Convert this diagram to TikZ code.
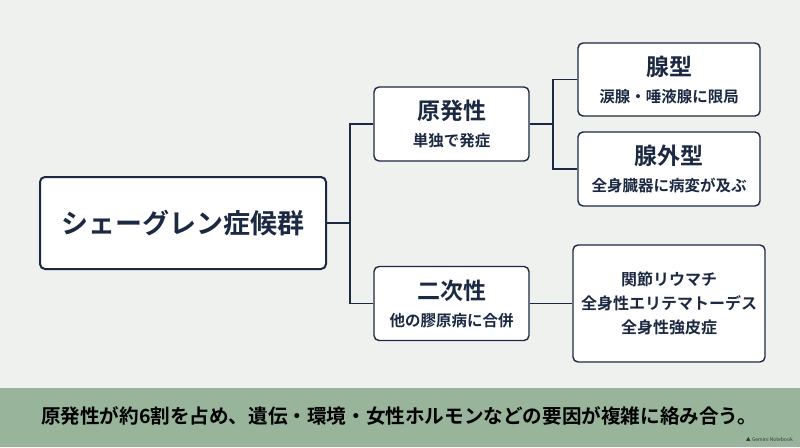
\documentclass[tikz,border=0pt]{standalone}
\usepackage{fontspec}
\setmainfont{Noto Sans CJK JP}[BoldFont={Noto Sans CJK JP Bold}]
\definecolor{bgc}{RGB}{238,241,237}
\definecolor{navy}{RGB}{28,41,66}
\definecolor{band}{RGB}{152,181,155}
\tikzset{
  box/.style={draw=navy, line width=1.4pt, fill=white, rounded corners=5pt, align=center, text=navy, inner sep=0pt,
    font=\bfseries\fontsize{15.5}{27}\selectfont},
  conn/.style={draw=navy, line width=1.1pt},
}
\newcommand{\ttl}[1]{{\fontsize{23}{27}\selectfont #1}}
\begin{document}
\begin{tikzpicture}[x=1pt,y=-1pt]
\fill[bgc] (0,0) rectangle (800,447);
\useasboundingbox (0,0) rectangle (800,447);
\fill[band] (0,388) rectangle (800,447);

\node[box, line width=2pt, minimum width=286pt, minimum height=92pt,
  font=\bfseries\fontsize{27}{32}\selectfont] (main) at (183,223) {シェーグレン症候群};
\node[box, minimum width=155pt, minimum height=74pt] (prim) at (451.5,124)
  {\ttl{原発性}\\単独で発症};
\node[box, minimum width=155pt, minimum height=74pt] (sec) at (451.5,303.5)
  {\ttl{二次性}\\他の膠原病に合併};
\node[box, minimum width=182pt, minimum height=73pt] (gland) at (669,79.5)
  {\ttl{腺型}\\涙腺・唾液腺に限局};
\node[box, minimum width=182pt, minimum height=74pt] (extra) at (669,169)
  {\ttl{腺外型}\\全身臓器に病変が及ぶ};
\node[box, minimum width=192pt, minimum height=117pt,
  font=\bfseries\fontsize{16}{24}\selectfont] (rel) at (669,303.5)
  {関節リウマチ\\全身性エリテマトーデス\\全身性強皮症};

\coordinate (t) at (350,223);
\coordinate (u) at (553,124);
\draw[conn] (main.east) -- (t);
\draw[conn] (prim.west) -| (t);
\draw[conn] (sec.west) -| (t);
\draw[conn] (prim.east) -- (u);
\draw[conn] (gland.west) -| (u);
\draw[conn] (extra.west) -| (u);
\draw[conn] (sec.east) -- (rel.west);

\node[text=black, font=\bfseries\fontsize{19.6}{24}\selectfont, inner sep=0pt] (foot) at (399,416)
  {原発性が約6割を占め、遺伝・環境・女性ホルモンなどの要因が複雑に絡み合う。};
\node[text=black!80, inner sep=0pt, anchor=east, font=\fontsize{5}{6}\selectfont] (wm) at (793,439)
  {▲ Gemini Notebook};
\end{tikzpicture}
\end{document}
